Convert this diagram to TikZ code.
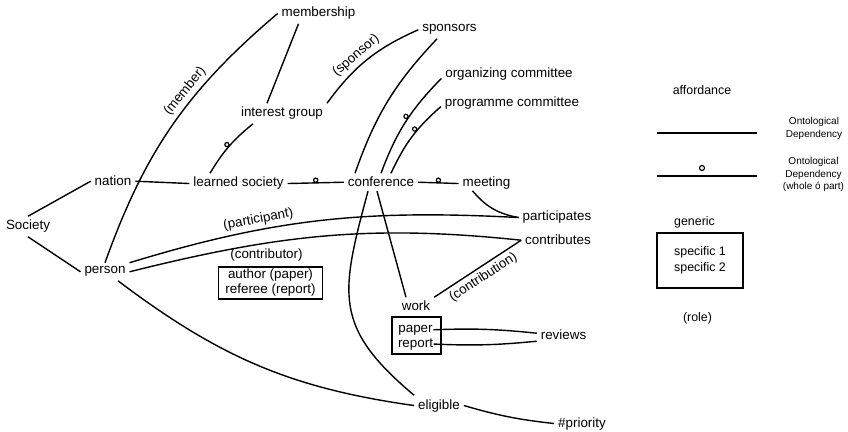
\documentclass[tikz,border=0pt]{standalone}
\usepackage{fontspec}
\setmainfont{Liberation Sans}
\usepackage{tikz}

\begin{document}
\begin{tikzpicture}[x=1pt, y=1pt, line width=1.4pt,
  font=\fontsize{13.4}{15}\selectfont,
  lbl/.style={anchor=base},
  leg/.style={font=\fontsize{12.4}{16.5}\selectfont},
  note/.style={font=\fontsize{10}{12.2}\selectfont, align=center},
  part/.style={circle, draw, inner sep=0pt, minimum size=4.2pt, line width=1.2pt},
  rolebox/.style={draw, line width=1.5pt, align=center}]

\useasboundingbox (0,0) rectangle (848,431);

% concepts
\node[lbl] (society) at (28,201) {Society};
\node[lbl] (nation) at (113,245) {nation};
\node[lbl] (learned) at (238.5,244) {learned society};
\node[lbl] (conference) at (381,244) {conference};
\node[lbl] (meeting) at (486.5,244) {meeting};
\node[lbl] (interest) at (282,314) {interest group};
\node[lbl] (membership) at (318.5,414) {membership};
\node[lbl] (sponsors) at (449.5,399) {sponsors};
\node[lbl] (organizing) at (509,353) {organizing committee};
\node[lbl] (programme) at (512,324) {programme committee};
\node[lbl] (person) at (105,157) {person};
\node[lbl] (participates) at (557,210) {participates};
\node[lbl] (contributes) at (558,186) {contributes};
\node[lbl] (contributor) at (266.5,172) {(contributor)};
\node[rolebox, inner xsep=7pt, inner ysep=2.5pt] (author) at (270.5,148) {author (paper)\\referee (report)};
\node[lbl] (work) at (416,120) {work};
\node[rolebox, minimum width=49pt, minimum height=37pt] (workbox) at (416.5,95.5) {};
\node[lbl, inner xsep=0pt] (paper) at (415.5,99) {paper};
\node[lbl, inner xsep=0pt] (report) at (415.5,84) {report};
\node[lbl] (reviews) at (563.5,92) {reviews};
\node[lbl] (eligible) at (439,22) {eligible};
\node[lbl] (priority) at (582,4) {\#priority};

% affordances
\draw (society.north) -- (nation.west);
\draw (society.south) -- (person.west);
\draw (nation.east) -- (learned.west);
\draw (learned.east) -- node[above, part] {} (conference.west);
\draw (conference.east) -- node[above, part] {} (meeting.west);
\draw (person.north) to[bend left=15] node[pos=.62, sloped, above] {(member)} (membership.west);
\draw ([xshift=-20pt]membership.south) -- ([xshift=-15pt]interest.north);
\draw ([xshift=-28.5pt]learned.north) to[bend left=10] node[sloped, above, part] {} ([xshift=-29pt]interest.south);
\draw (interest.north east) to[bend left=15] node[pos=.45, sloped, above] {(sponsor)} (sponsors.west);
\draw ([xshift=-26pt]conference.north) to[bend left=12] ([xshift=-12.5pt]sponsors.south);
\draw (conference.north) to[bend left=12] node[pos=.55, sloped, above, part] {} ([yshift=-4pt]organizing.west);
\draw ([xshift=10pt]conference.north) to[bend left=12] node[pos=.6, sloped, above, part] {} ([yshift=-3pt]programme.west);
\draw ([xshift=-14pt, yshift=3pt]meeting.south) to[bend right=20] (participates.west);
\draw (person.north east) to[out=17, in=177] node[pos=.33, sloped, above] {(participant)} (participates.west);
\draw (person.east) to[out=14, in=174] (contributes.west);
\draw ([xshift=-4pt]conference.south) -- ([xshift=-10pt]work.north);
\draw ([xshift=-13pt]conference.south) to[out=255, in=140, looseness=1.3] (eligible.north west);
\draw ([xshift=13pt]person.south) to[out=-37, in=172] (eligible.west);
\draw (eligible.east) to[bend right=5] (priority.west);
\draw (work.north east) -- node[sloped, below] {(contribution)} (contributes.west);
\draw (paper.east) to[bend left=4] ([yshift=1pt]reviews.west);
\draw (report.east) to[bend right=4] ([yshift=-7pt]reviews.west);

% legend
\node[lbl, leg] (affordance) at (702,336) {affordance};
\coordinate (odA) at (657,298);
\coordinate (odB) at (757,298);
\draw (odA) -- (odB);
\node[note] (od) at (814,302.5) {Ontological\\Dependency};
\coordinate (wpA) at (657,255);
\coordinate (wpB) at (757,255);
\draw (wpA) -- (wpB);
\node[part, minimum size=5pt] (wpmark) at (702,263) {};
\node[note] (odwp) at (813.5,256.5) {Ontological\\Dependency\\(whole ó part)};
\node[lbl, leg] (generic) at (694.5,205) {generic};
\node[rolebox, leg, minimum width=86pt, minimum height=55pt] (specific) at (700,170.5) {specific 1\\specific 2};
\node[lbl, leg] (role) at (697.5,109) {(role)};

\end{tikzpicture}
\end{document}
